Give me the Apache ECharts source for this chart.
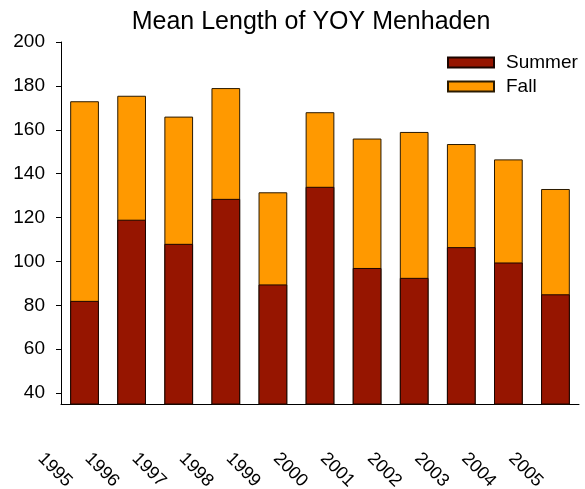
<!DOCTYPE html>
<html>
<head>
<meta charset="utf-8">
<script src="https://cdn.jsdelivr.net/npm/echarts@6/dist/echarts.min.js"></script>
<style>
  html, body { margin: 0; padding: 0; background: #fff; }
  #chart { width: 585px; height: 489px; }
</style>
</head>
<body>
<div id="chart"></div>
<script>
const years = ['1995', '1996', '1997', '1998', '1999', '2000', '2001', '2002', '2003', '2004', '2005']
const summer = [82, 119, 108, 128.5, 89.5, 134, 97, 92.5, 106.5, 99.5, 85]
const fall = [173, 175.5, 166, 179, 131.5, 168, 156, 159, 153.5, 146.5, 133]
const yTicks = [40, 60, 80, 100, 120, 140, 160, 180, 200]

const font = '"Liberation Sans", Arial, sans-serif'
const myChart = echarts.init(document.getElementById('chart'))

const option = {
    animation: false,
    title: {
        text: 'Mean Length of YOY Menhaden',
        left: 306,
        top: 5,
        textAlign: 'center',
        textStyle: { fontFamily: font, fontSize: 25, fontWeight: 'normal', color: '#000' }
    },
    legend: {
        data: ['Summer', 'Fall'],
        orient: 'vertical',
        left: 442,
        top: 48,
        icon: 'rect',
        itemWidth: 46,
        itemHeight: 10,
        itemGap: 5,
        textStyle: { fontFamily: font, fontSize: 19, color: '#000', padding: [0, 0, 0, 7] }
    },
    grid: { left: 61, right: 6, top: 42, bottom: 85, outerBoundsMode: 'none' },
    xAxis: {
        type: 'category',
        data: years,
        axisLine: { lineStyle: { color: '#000', width: 1 } },
        axisTick: { alignWithLabel: true, length: 5, lineStyle: { color: '#000' } },
        axisLabel: {
            interval: 0,
            rotate: -45,
            margin: 8,
            formatter: (value) => '{shift|' + value + '}',
            rich: {
                shift: { padding: [124, 0, 0, 0], fontFamily: font, fontSize: 18, color: '#000' }
            },
            fontFamily: font,
            fontSize: 18,
            color: '#000'
        }
    },
    yAxis: {
        type: 'value',
        min: 35,
        max: 200,
        splitLine: { show: false },
        axisLine: { show: true, lineStyle: { color: '#000', width: 1 } },
        axisTick: { show: true, length: 5, customValues: yTicks, lineStyle: { color: '#000' } },
        axisLabel: {
            customValues: yTicks,
            margin: 16,
            fontFamily: font,
            fontSize: 19,
            color: '#000'
        }
    },
    series: [
        {
            name: 'Fall',
            type: 'bar',
            data: fall,
            barWidth: '61%',
            barGap: '-100%',
            itemStyle: { color: '#FF9900', borderColor: '#2a1a00', borderWidth: 1 }
        },
        {
            name: 'Summer',
            type: 'bar',
            data: summer,
            barWidth: '61%',
            itemStyle: { color: '#961500', borderColor: '#1a0500', borderWidth: 1 }
        }
    ]
}
myChart.setOption(option)
</script>
</body>
</html>
